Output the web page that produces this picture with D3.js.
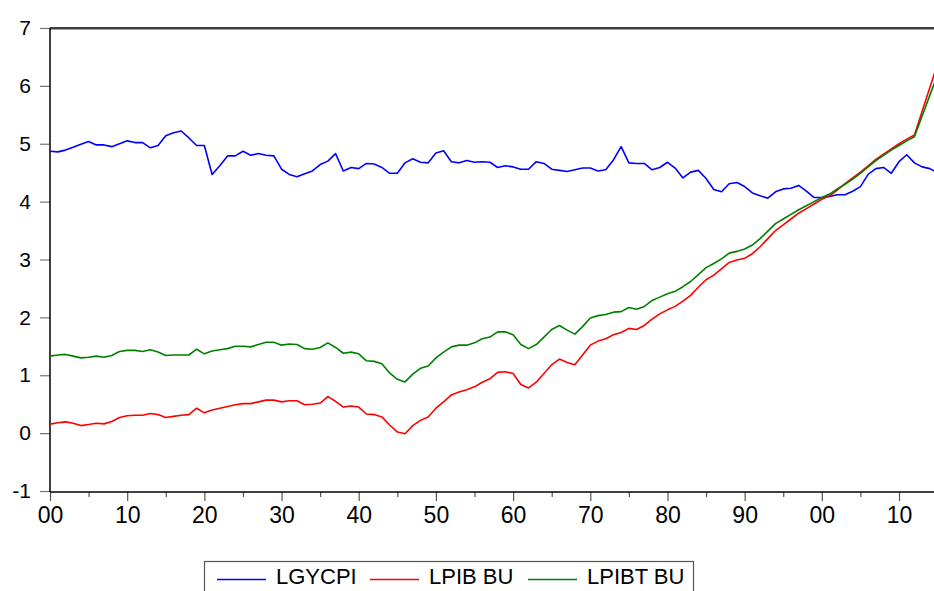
<!DOCTYPE html>
<html>
<head>
<meta charset="utf-8">
<script src="https://cdnjs.cloudflare.com/ajax/libs/d3/7.8.5/d3.min.js"></script>
<style>
  body { margin: 0; background: #fff; }
  svg { display: block; font-family: Arial, "Liberation Sans", sans-serif; }
</style>
</head>
<body>
<div id="chart"></div>
<script>
const years = d3.range(1900, 2016);

const lgycpi = [
  4.87, 4.86, 4.89, 4.94, 4.99, 5.04, 4.98, 4.98, 4.95, 5.00,
  5.05, 5.02, 5.02, 4.93, 4.97, 5.14, 5.19, 5.22, 5.10, 4.97,
  4.97, 4.47, 4.62, 4.79, 4.79, 4.87, 4.80, 4.83, 4.80, 4.79,
  4.56, 4.47, 4.43, 4.48, 4.53, 4.64, 4.70, 4.83, 4.53, 4.59,
  4.57, 4.66, 4.65, 4.59, 4.49, 4.49, 4.67, 4.74, 4.68, 4.67,
  4.84, 4.88, 4.69, 4.67, 4.71, 4.68, 4.69, 4.68, 4.59, 4.62,
  4.60, 4.56, 4.56, 4.69, 4.66, 4.56, 4.54, 4.52, 4.55, 4.58,
  4.58, 4.53, 4.55, 4.72, 4.95, 4.67, 4.66, 4.66, 4.55, 4.59,
  4.68, 4.58, 4.41, 4.51, 4.54, 4.40, 4.21, 4.17, 4.31, 4.33,
  4.26, 4.15, 4.10, 4.06, 4.17, 4.22, 4.23, 4.28, 4.18, 4.07,
  4.07, 4.09, 4.12, 4.12, 4.18, 4.26, 4.47, 4.57, 4.59, 4.49,
  4.69, 4.81, 4.67, 4.60, 4.57, 4.50
];

const lpibBu = [
  0.155, 0.18, 0.195, 0.17, 0.13, 0.15, 0.17, 0.16, 0.20, 0.27,
  0.30, 0.31, 0.31, 0.34, 0.32, 0.27, 0.29, 0.31, 0.32, 0.43,
  0.35, 0.40, 0.43, 0.46, 0.49, 0.51, 0.51, 0.54, 0.57, 0.57,
  0.54, 0.56, 0.56, 0.49, 0.50, 0.52, 0.63, 0.55, 0.45, 0.47,
  0.45, 0.33, 0.32, 0.28, 0.14, 0.02, -0.01, 0.13, 0.22, 0.28,
  0.43, 0.54, 0.66, 0.71, 0.75, 0.80, 0.88, 0.94, 1.05, 1.06,
  1.03, 0.84, 0.78, 0.88, 1.03, 1.18, 1.28, 1.22, 1.18, 1.35,
  1.52, 1.59, 1.63, 1.70, 1.74, 1.81, 1.79, 1.86, 1.97, 2.06,
  2.13, 2.19, 2.28, 2.38, 2.52, 2.65, 2.73, 2.84, 2.95, 2.99,
  3.02, 3.10, 3.22, 3.36, 3.50, 3.60, 3.70, 3.80, 3.88, 3.96,
  4.04, 4.10, 4.20, 4.31, 4.41, 4.51, 4.62, 4.73, 4.82, 4.91,
  5.00, 5.08, 5.15, 5.56, 5.97, 6.38
];

const lpibtBu = [
  1.33, 1.35, 1.36, 1.33, 1.30, 1.31, 1.33, 1.31, 1.34, 1.41,
  1.43, 1.43, 1.41, 1.44, 1.40, 1.34, 1.35, 1.35, 1.35, 1.45,
  1.37, 1.42, 1.44, 1.46, 1.50, 1.50, 1.49, 1.53, 1.57, 1.57,
  1.52, 1.54, 1.53, 1.46, 1.45, 1.48, 1.56, 1.48, 1.38, 1.40,
  1.37, 1.25, 1.24, 1.20, 1.04, 0.93, 0.885, 1.02, 1.12, 1.16,
  1.30, 1.40, 1.49, 1.52, 1.52, 1.56, 1.63, 1.66, 1.75, 1.75,
  1.70, 1.53, 1.46, 1.53, 1.66, 1.79, 1.86, 1.78, 1.71, 1.84,
  1.99, 2.03, 2.05, 2.09, 2.10, 2.17, 2.14, 2.19, 2.29, 2.35,
  2.41, 2.45, 2.53, 2.62, 2.74, 2.86, 2.93, 3.01, 3.11, 3.14,
  3.18, 3.25, 3.36, 3.49, 3.62, 3.70, 3.78, 3.86, 3.93, 4.00,
  4.07, 4.13, 4.22, 4.30, 4.39, 4.49, 4.60, 4.71, 4.80, 4.89,
  4.97, 5.05, 5.12, 5.48, 5.84, 6.19
];

const seriesNames = ['LGYCPI', 'LPIB BU', 'LPIBT BU'];
const seriesColors = ['#0000ff', '#ff0000', '#008000'];
const yTicks = [-1, 0, 1, 2, 3, 4, 5, 6, 7];
const xMajor = d3.range(1900, 2016, 10);
const xMinor = d3.range(1905, 2016, 10);

const width = 934, height = 591;
const margin = { left: 50, top: 28, bottom: 491, right: 937.6 };

const svg = d3.select('#chart').append('svg')
  .attr('width', width)
  .attr('height', height);

const x = d3.scaleLinear().domain([1900, 2015]).range([margin.left, margin.right]);
const y = d3.scaleLinear().domain([-1, 7]).range([margin.bottom, margin.top]);

// top frame line (black with a grey shade below)
svg.append('line')
  .attr('x1', margin.left).attr('x2', width)
  .attr('y1', margin.top + 1.5).attr('y2', margin.top + 1.5)
  .attr('stroke', '#999').attr('stroke-width', 1);
svg.append('line')
  .attr('x1', margin.left).attr('x2', width)
  .attr('y1', margin.top).attr('y2', margin.top)
  .attr('stroke', '#000').attr('stroke-width', 1.5);

// y axis (plain hyphen for the minus sign, as in the original)
const yAxis = d3.axisLeft(y)
  .tickValues(yTicks)
  .tickSize(10)
  .tickPadding(9)
  .tickFormat(function(d) { return String(d); });

const gy = svg.append('g')
  .attr('transform', 'translate(' + margin.left + ',0)')
  .call(yAxis);
gy.select('.domain').remove();
gy.selectAll('.tick line').attr('stroke', '#777').attr('stroke-width', 1.2);
gy.selectAll('.tick text')
  .attr('fill', '#000')
  .style('font-size', '21px')
  .style('font-family', 'Arial, "Liberation Sans", sans-serif');

svg.append('line')
  .attr('x1', margin.left).attr('x2', margin.left)
  .attr('y1', margin.top).attr('y2', margin.bottom + 1)
  .attr('stroke', '#000').attr('stroke-width', 1.5);

// x axis: major ticks with labels, minor ticks without
const xAxis = d3.axisBottom(x)
  .tickValues(xMajor)
  .tickSize(9)
  .tickPadding(6)
  .tickFormat(function(d) {
    return d3.format('02d')(d % 100);
  });

const gx = svg.append('g')
  .attr('transform', 'translate(0,' + (margin.bottom + 1) + ')')
  .call(xAxis);
gx.select('.domain').remove();
gx.selectAll('.tick line').attr('stroke', '#555').attr('stroke-width', 1.2);
gx.selectAll('.tick text')
  .attr('fill', '#000')
  .style('font-size', '23px')
  .style('font-family', 'Arial, "Liberation Sans", sans-serif');

const gxMinor = svg.append('g')
  .attr('transform', 'translate(0,' + (margin.bottom + 1) + ')')
  .call(d3.axisBottom(x).tickValues(xMinor).tickSize(5).tickFormat(''));
gxMinor.select('.domain').remove();
gxMinor.selectAll('.tick line').attr('stroke', '#555').attr('stroke-width', 1.2);

svg.append('line')
  .attr('x1', margin.left).attr('x2', width)
  .attr('y1', margin.bottom + 1).attr('y2', margin.bottom + 1)
  .attr('stroke', '#000').attr('stroke-width', 1.5);

// series lines
const line = d3.line()
  .x(function(d, i) { return x(years[i]); })
  .y(function(d) { return y(d); });

const allSeries = [lgycpi, lpibBu, lpibtBu];

svg.append('defs').append('clipPath')
  .attr('id', 'plot-clip')
  .append('rect')
    .attr('x', margin.left).attr('y', margin.top)
    .attr('width', width - margin.left)
    .attr('height', margin.bottom - margin.top);

svg.append('g')
  .attr('clip-path', 'url(#plot-clip)')
  .selectAll('path')
  .data(allSeries)
  .enter()
  .append('path')
    .attr('d', line)
    .attr('fill', 'none')
    .attr('stroke', function(d, i) { return seriesColors[i]; })
    .attr('stroke-width', 1.6)
    .attr('stroke-linejoin', 'round');

// legend
const legend = svg.append('g');
legend.append('rect')
  .attr('x', 204.5).attr('y', 561.5)
  .attr('width', 489).attr('height', 40)
  .attr('fill', '#fff')
  .attr('stroke', '#555')
  .attr('stroke-width', 1.2);

const legendX = [217, 370, 528];
const legendItem = legend.selectAll('.item')
  .data(seriesNames)
  .enter()
  .append('g')
    .attr('class', 'item')
    .attr('transform', function(d, i) { return 'translate(' + legendX[i] + ',0)'; });

legendItem.append('line')
  .attr('x1', 0).attr('x2', 49)
  .attr('y1', 579.5).attr('y2', 579.5)
  .attr('stroke', function(d, i) { return seriesColors[i]; })
  .attr('stroke-width', 1.6);

legendItem.append('text')
  .attr('x', 59)
  .attr('y', 583.5)
  .attr('fill', '#000')
  .style('font-size', '22px')
  .text(function(d) { return d; });
</script>
</body>
</html>
